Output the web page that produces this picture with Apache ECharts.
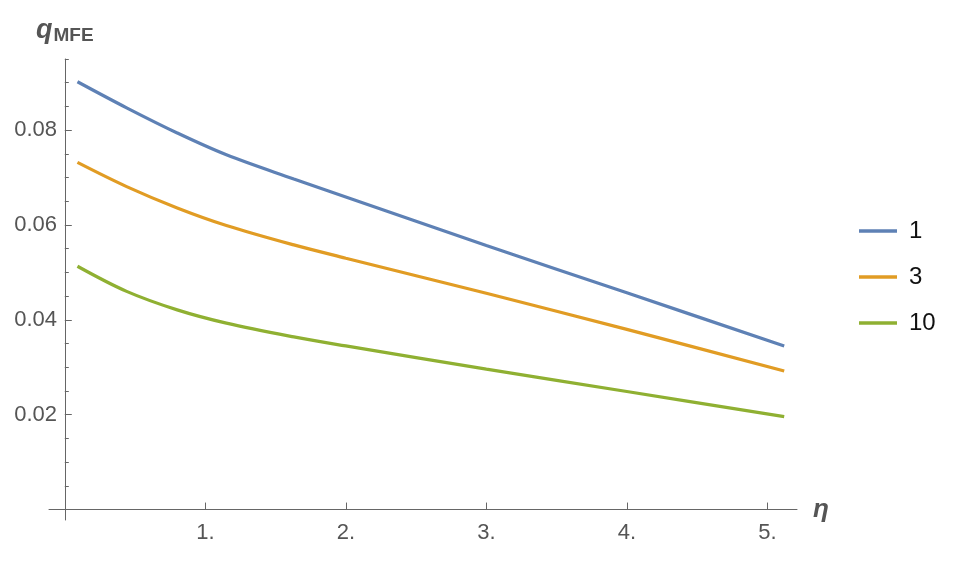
<!DOCTYPE html>
<html>
<head>
<meta charset="utf-8">
<script src="https://cdn.jsdelivr.net/npm/echarts@6/dist/echarts.min.js"></script>
<style>
  html, body { margin: 0; padding: 0; background: #fff; }
  #chart { width: 956px; height: 562px; }
</style>
</head>
<body>
<div id="chart"></div>
<script>
// values
var eta = [0.09, 0.44, 0.8, 1.15, 1.63, 2, 3, 4, 5.12];
var qOne = [0.0902, 0.0847, 0.0794, 0.0748, 0.0697, 0.0659, 0.0557, 0.0457, 0.0345];
var qThree = [0.0732, 0.0681, 0.0636, 0.0599, 0.0558, 0.0530, 0.0456, 0.0380, 0.0292];
var qTen = [0.0513, 0.0460, 0.0421, 0.0393, 0.0364, 0.0345, 0.0296, 0.0249, 0.0196];
var seriesNames = ['1', '3', '10'];
var xTicks = [1, 2, 3, 4, 5];
var yTicks = [0.02, 0.04, 0.06, 0.08];
var yMinorTicks = [0.005, 0.01, 0.015, 0.025, 0.03, 0.035, 0.045, 0.05, 0.055,
  0.065, 0.07, 0.075, 0.085, 0.09, 0.095];

var axisColor = '#666666';
var labelColor = '#555555';
var font = 'Liberation Sans';

function pairs(ys) {
  return eta.map(function (x, i) { return [x, ys[i]]; });
}

var chart = echarts.init(document.getElementById('chart'));
var option = {
  animation: false,
  color: ['#5E81B5', '#E19C24', '#8FB032'],
  grid: {
    left: 49, top: 59, width: 748, height: 461,
    outerBoundsMode: 'none'
  },
  legend: {
    orient: 'vertical',
    left: 859,
    top: 219,
    padding: 0,
    icon: 'rect',
    itemWidth: 38,
    itemHeight: 3.5,
    itemGap: 22,
    data: seriesNames,
    textStyle: {
      fontFamily: font,
      fontSize: 24,
      lineHeight: 24,
      color: '#111',
      padding: [0, 0, 0, 7]
    }
  },
  xAxis: {
    type: 'value',
    min: -0.1125,
    max: 5.211,
    name: 'η',
    nameLocation: 'end',
    nameGap: 16,
    nameTextStyle: {
      fontFamily: font, fontSize: 26, fontStyle: 'italic', fontWeight: 'bold',
      color: labelColor, verticalAlign: 'middle', padding: [4, 0, 0, 0]
    },
    axisLine: { onZero: true, lineStyle: { color: axisColor, width: 1 } },
    axisTick: { inside: true, length: 7, customValues: xTicks, lineStyle: { color: axisColor } },
    axisLabel: {
      customValues: xTicks,
      margin: 2,
      fontFamily: font, fontSize: 22, color: labelColor,
      formatter: function (v) { return v + '.'; }
    },
    splitLine: { show: false }
  },
  yAxis: [
    {
      type: 'value',
      min: -0.0022,
      max: 0.095,
      name: '{q|q}{s|MFE}',
      nameLocation: 'end',
      nameGap: 14,
      nameTextStyle: {
        align: 'center',
        rich: {
          q: { fontFamily: font, fontSize: 27, fontStyle: 'italic', fontWeight: 'bold', color: labelColor },
          s: { fontFamily: font, fontSize: 19, fontWeight: 'bold', color: labelColor, padding: [10, 0, 0, 1] }
        }
      },
      axisLine: { onZero: true, onZeroAxisIndex: 0, lineStyle: { color: axisColor, width: 1 } },
      axisTick: { inside: true, length: 7, customValues: yTicks, lineStyle: { color: axisColor } },
      axisLabel: {
        customValues: yTicks,
        margin: -8,
        fontFamily: font, fontSize: 22, color: labelColor
      },
      splitLine: { show: false }
    },
    {
      type: 'value',
      position: 'left',
      min: -0.0022,
      max: 0.095,
      axisLine: { show: false, onZero: true, onZeroAxisIndex: 0 },
      axisTick: { show: true, inside: true, length: 4, customValues: yMinorTicks, lineStyle: { color: axisColor } },
      axisLabel: { show: false },
      splitLine: { show: false }
    }
  ],
  series: [
    { name: seriesNames[0], type: 'line', data: pairs(qOne) },
    { name: seriesNames[1], type: 'line', data: pairs(qThree) },
    { name: seriesNames[2], type: 'line', data: pairs(qTen) }
  ].map(function (s) {
    s.smooth = 0.35;
    s.showSymbol = false;
    s.symbol = 'none';
    s.lineStyle = { width: 3.2 };
    return s;
  })
};
chart.setOption(option);
</script>
</body>
</html>
